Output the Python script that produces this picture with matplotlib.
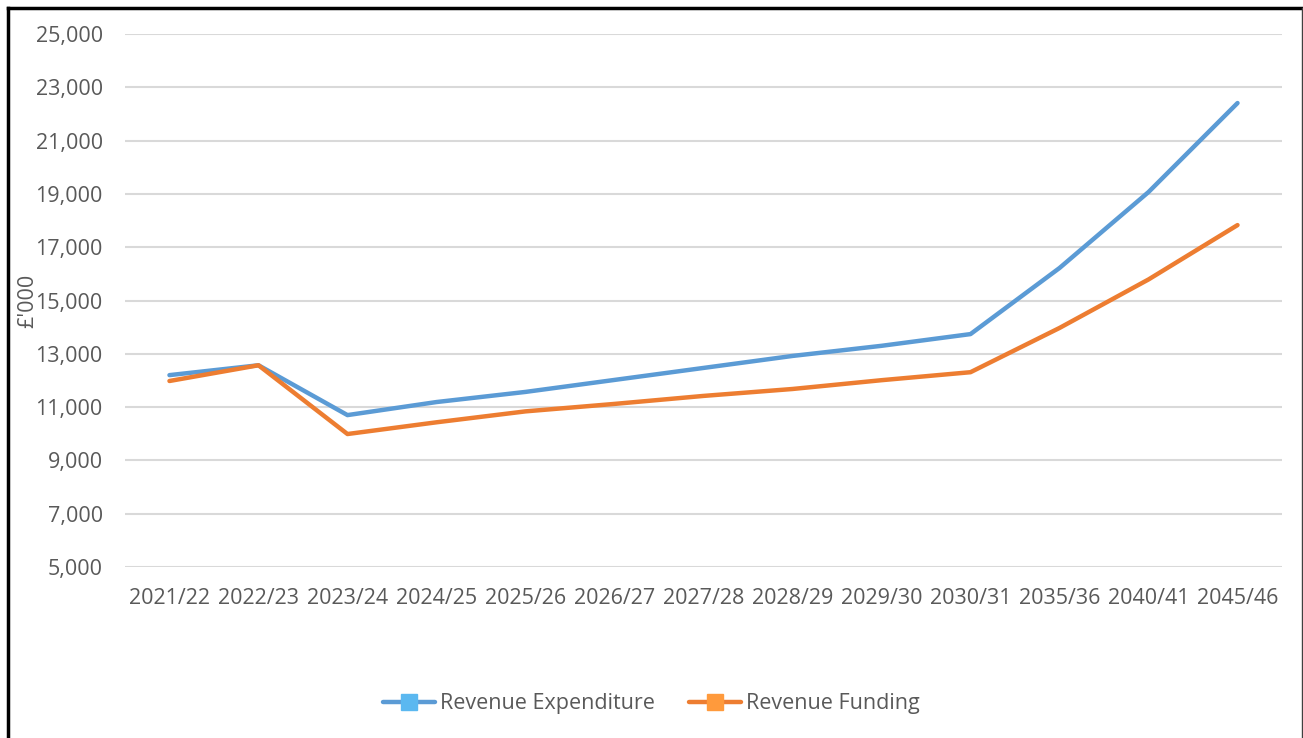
import matplotlib.pyplot as plt
from matplotlib.lines import Line2D
from matplotlib.ticker import FuncFormatter

plt.rcParams['font.family'] = ['Open Sans', 'DejaVu Sans']

years = ['2021/22', '2022/23', '2023/24', '2024/25', '2025/26', '2026/27', '2027/28',
         '2028/29', '2029/30', '2030/31', '2035/36', '2040/41', '2045/46']
expenditure = [12200, 12570, 10700, 11190, 11570, 12020, 12470,
               12920, 13300, 13740, 16220, 19070, 22410]
funding = [11980, 12570, 9990, 10430, 10840, 11120, 11420,
           11680, 12010, 12310, 13970, 15790, 17830]

blue = '#5B9BD5'
orange = '#ED7D31'
grey = '#595959'

fig = plt.figure(figsize=(13.03, 7.38), dpi=100)
ax = fig.add_axes([0.0959, 0.2317, 0.888, 0.7222])

x = range(len(years))
ax.plot(x, expenditure, color=blue, lw=3.2, solid_capstyle='round', solid_joinstyle='round')
ax.plot(x, funding, color=orange, lw=3.2, solid_capstyle='round', solid_joinstyle='round')

ax.set_xlim(-0.5, len(years) - 0.5)
ax.set_ylim(5000, 25000)
ax.set_yticks(range(5000, 25001, 2000))
ax.yaxis.set_major_formatter(FuncFormatter(lambda v, p: f'{int(v):,}'))
ax.set_xticks(list(x))
ax.set_xticklabels(years)
ax.grid(axis='y', color='#D9D9D9', lw=1.5)
ax.set_axisbelow(True)
for s in ax.spines.values():
    s.set_visible(False)
ax.tick_params(length=0, labelsize=15.5, colors=grey)
ax.tick_params(axis='x', pad=15)
ax.tick_params(axis='y', pad=16)
ax.set_ylabel("£'000", fontsize=15.5, color=grey)
ax.yaxis.set_label_coords(-0.075, 0.5)

handles = [
    Line2D([], [], color=blue, lw=3.2, marker='s', markersize=11,
           markerfacecolor='#5BB8F0', markeredgecolor='#5BB8F0', solid_capstyle='round'),
    Line2D([], [], color=orange, lw=3.2, marker='s', markersize=11,
           markerfacecolor='#FF9A3C', markeredgecolor='#FF9A3C', solid_capstyle='round'),
]
fig.legend(handles, ['Revenue Expenditure', 'Revenue Funding'], loc='center',
           bbox_to_anchor=(0.5, 1 - 704 / 738), ncol=2, frameon=False,
           fontsize=15.5, labelcolor=grey, handlelength=2.4, handletextpad=0.25,
           columnspacing=1.6)

# chart border
fig.add_artist(Line2D([7.5 / 1303, 1301.5 / 1303], [1 - 7.5 / 738] * 2, color='black', lw=2.5))
fig.add_artist(Line2D([7.5 / 1303] * 2, [0, 1 - 7.5 / 738], color='black', lw=2.5))
fig.add_artist(Line2D([1301.5 / 1303] * 2, [0, 1 - 7.5 / 738], color='#404040', lw=1))

fig.savefig('out.png', dpi=100)
